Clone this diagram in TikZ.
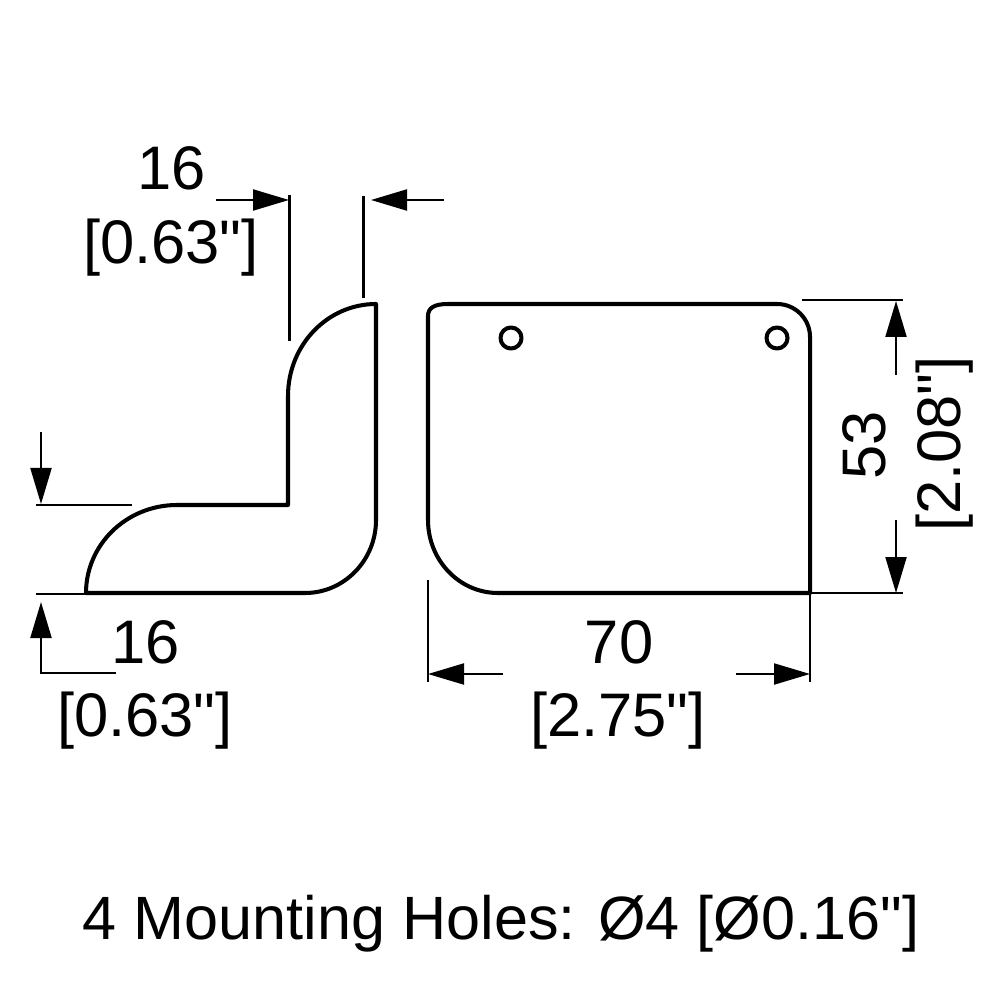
\documentclass[tikz,border=0pt]{standalone}
\usepackage{fontspec}
\newfontfamily\dimfamily{Liberation Sans}
\usepackage{tikz}
\usetikzlibrary{positioning}
\usetikzlibrary{arrows.meta}
\newcommand{\dimfont}{\dimfamily\fontsize{17.5}{20}\selectfont}
\newcommand{\notefont}{\dimfamily\fontsize{17.4}{20}\selectfont}

\tikzset{
    outline/.style = {line width = 1.15pt, line join = round, line cap = round},
    dimline/.style = {line width = 0.6pt},
    dimarrow/.style = {dimline, -{Stealth[length=3.6mm, width=2.1mm, inset=0pt]}},
    dimtext/.style = {inner sep = 0pt, font = \dimfont},
}

\begin{document}
\begin{tikzpicture}
    \useasboundingbox (0,0) rectangle (10,-10);

    %Profile
    \coordinate (ProfileTop) at (3.76,-3.04);
    \coordinate [below = 2.16 cm of ProfileTop] (ProfileOuter);
    \coordinate [below right = 2.89 cm and -2.90 cm of ProfileTop] (ProfileLeft);
    \coordinate [below right = 2.01 cm and -0.88 cm of ProfileTop] (ProfileInner);

    \draw[outline] (ProfileTop) -- (ProfileOuter)
        arc[start angle = 0, end angle = -90, x radius = 0.71 cm, y radius = 0.73 cm]
        -- (ProfileLeft)
        arc[start angle = 180, end angle = 90, x radius = 0.91 cm, y radius = 0.88 cm]
        -- (ProfileInner) -- +(0,1.09)
        arc[start angle = 180, end angle = 90, x radius = 0.88 cm, y radius = 0.92 cm];

    %Plate
    \coordinate (PlateLeft) at (4.28,-3.16);
    \coordinate [above right = 0.12 cm and 0.20 cm of PlateLeft] (PlateTop);
    \coordinate [right = 3.29 cm of PlateTop] (PlateTopEnd);
    \coordinate (PlateRight) at (8.10,-5.93);
    \coordinate [left = 3.12 cm of PlateRight] (PlateBottom);

    \draw[outline] (PlateLeft)
        .. controls +(0,0.08) and +(-0.14,0) .. (PlateTop)
        -- (PlateTopEnd)
        arc[start angle = 90, end angle = 0, x radius = 0.33 cm, y radius = 0.33 cm]
        -- (PlateRight) -- (PlateBottom)
        arc[start angle = 270, end angle = 180, x radius = 0.70 cm, y radius = 0.73 cm]
        -- cycle;

    %Holes
    \node[circle, draw, outline, minimum size = 0.21 cm, inner sep = 0pt] (HoleLeft) at (5.11,-3.38) {};
    \node[circle, draw, outline, minimum size = 0.21 cm, inner sep = 0pt] (HoleRight) at (7.77,-3.38) {};

    %-------------------------------------------
    %Dimension lines

    %top
    \coordinate (TopTailLeft) at (2.16,-2.00);
    \coordinate [right = 0.73 cm of TopTailLeft] (TopTipLeft);
    \coordinate (TopTailRight) at (4.44,-2.00);
    \coordinate [left = 0.73 cm of TopTailRight] (TopTipRight);
    \draw[dimarrow] (TopTailLeft) -- (TopTipLeft);
    \draw[dimarrow] (TopTailRight) -- (TopTipRight);
    \coordinate (TopExtLeft) at (2.895,-1.95);
    \coordinate [below = 1.46 cm of TopExtLeft] (TopExtLeftEnd);
    \coordinate (TopExtRight) at (3.635,-1.96);
    \coordinate [below = 1.02 cm of TopExtRight] (TopExtRightEnd);
    \draw[dimline] (TopExtLeft) -- (TopExtLeftEnd);
    \draw[dimline] (TopExtRight) -- (TopExtRightEnd);

    %side of the profile
    \coordinate (SideTail) at (0.41,-4.32);
    \coordinate [below = 0.72 cm of SideTail] (SideTip);
    \draw[dimarrow] (SideTail) -- (SideTip);
    \coordinate (SideExtUpp) at (0.36,-5.05);
    \coordinate [right = 0.96 cm of SideExtUpp] (SideExtUppEnd);
    \coordinate (SideExtLow) at (0.36,-5.94);
    \coordinate [right = 1.04 cm of SideExtLow] (SideExtLowEnd);
    \draw[dimline] (SideExtUpp) -- (SideExtUppEnd);
    \draw[dimline] (SideExtLow) -- (SideExtLowEnd);
    \coordinate (SideCorner) at (0.41,-6.73);
    \coordinate [above = 0.71 cm of SideCorner] (SideCornerTip);
    \coordinate [right = 0.75 cm of SideCorner] (SideCornerEnd);
    \draw[dimarrow] (SideCornerEnd) -- (SideCorner) -- (SideCornerTip);

    %width of the plate
    \coordinate (WidthExtLeft) at (4.28,-5.80);
    \coordinate [below = 1.02 cm of WidthExtLeft] (WidthExtLeftEnd);
    \coordinate [below = 0.89 cm of PlateRight] (WidthExtRightEnd);
    \draw[dimline] (WidthExtLeft) -- (WidthExtLeftEnd);
    \draw[dimline] (PlateRight) -- (WidthExtRightEnd);
    \coordinate (WidthTailLeft) at (5.03,-6.74);
    \coordinate [left = 0.75 cm of WidthTailLeft] (WidthTipLeft);
    \coordinate (WidthTailRight) at (7.36,-6.74);
    \coordinate [right = 0.74 cm of WidthTailRight] (WidthTipRight);
    \draw[dimarrow] (WidthTailLeft) -- (WidthTipLeft);
    \draw[dimarrow] (WidthTailRight) -- (WidthTipRight);

    %height of the plate
    \coordinate (HeightExtUpp) at (8.02,-3.00);
    \coordinate [right = 1.01 cm of HeightExtUpp] (HeightExtUppEnd);
    \coordinate [right = 0.93 cm of PlateRight] (HeightExtLowEnd);
    \draw[dimline] (HeightExtUpp) -- (HeightExtUppEnd);
    \draw[dimline] (PlateRight) -- (HeightExtLowEnd);
    \coordinate (HeightTailUpp) at (8.96,-3.75);
    \coordinate [above = 0.74 cm of HeightTailUpp] (HeightTipUpp);
    \coordinate (HeightTailLow) at (8.96,-5.20);
    \coordinate [below = 0.73 cm of HeightTailLow] (HeightTipLow);
    \draw[dimarrow] (HeightTailUpp) -- (HeightTipUpp);
    \draw[dimarrow] (HeightTailLow) -- (HeightTipLow);

    %-------------------------------------------
    %Labels

    \node[dimtext] (TopMm) at (1.72,-1.68) {16};
    \node[dimtext] (TopInch) at (1.71,-2.48) {[0.63"]};

    \node[dimtext] (SideMm) at (1.46,-6.42) {16};
    \node[dimtext] (SideInch) at (1.45,-7.21) {[0.63"]};

    \node[dimtext] (WidthMm) at (6.19,-6.42) {70};
    \node[dimtext] (WidthInch) at (6.18,-7.21) {[2.75"]};

    \node[dimtext, rotate = 90] (HeightMm) at (8.64,-4.45) {53};
    \node[dimtext, rotate = 90] (HeightInch) at (9.45,-4.44) {[2.08"]};

    \node[dimtext, font = \notefont] (HolesNote) at (5.01,-9.24) {4 Mounting Holes: Ø4 [Ø0.16"]};

\end{tikzpicture}
\end{document}
